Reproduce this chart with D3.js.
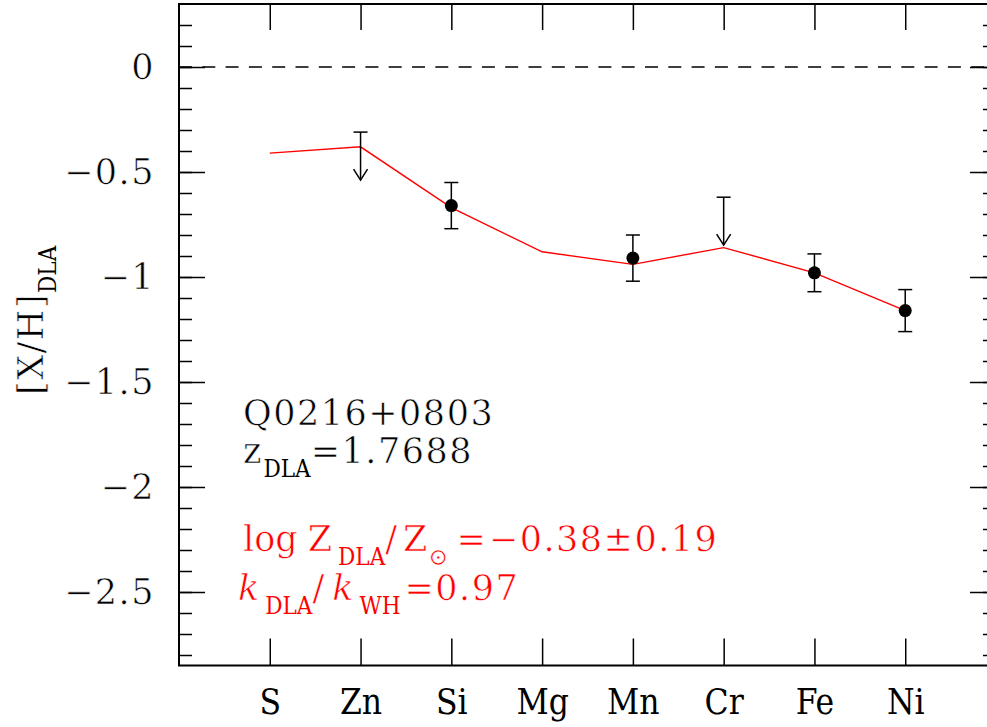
<!DOCTYPE html>
<meta charset="utf-8">
<html lang="en">
<head>
<title>[X/H] DLA pattern</title>
<script src="https://d3js.org/d3.v7.min.js"></script>
<style>
  body { margin: 0; background: #fff; }
  svg text { font-family: "DejaVu Serif", serif; stroke: #fff; stroke-width: 0.6px; }
  svg text .sub, svg text.sub { font-family: "DejaVu Serif Condensed", "DejaVu Serif", serif; letter-spacing: 0; stroke: none; }
  .big { letter-spacing: 1.5px; }
</style>
</head>
<body>
<div id="chart"></div>
<script>
// elements along the x axis
var elements = ["S", "Zn", "Si", "Mg", "Mn", "Cr", "Fe", "Ni"];
// model curve (red line)
var modelValues = [-0.41, -0.38, -0.67, -0.88, -0.94, -0.86, -0.98, -1.16];
// measured abundances with errors
var measured = ["Si", "Mn", "Fe", "Ni"];
var measuredValues = [-0.66, -0.91, -0.98, -1.16];
var measuredErrors = [0.11, 0.11, 0.09, 0.10];
// upper limits
var limits = ["Zn", "Cr"];
var limitValues = [-0.31, -0.62];
// y tick values
var majorTicks = [0, -0.5, -1, -1.5, -2, -2.5];
var minorTicks = d3.range(2, -29, -1).map(function(d) { return d / 10; });
var yTickLabels = ["0", "\u22120.5", "\u22121", "\u22121.5", "\u22122", "\u22122.5"];

var width = 987, height = 727;
var plotLeft = 179, plotRight = 996, plotTop = 4, plotBottom = 665.5;

var svg = d3.select("#chart").append("svg")
    .attr("width", width)
    .attr("height", height);

var x = d3.scalePoint()
    .domain(elements)
    .range([plotLeft, plotRight])
    .padding(1);

var y = d3.scaleLinear()
    .domain([0.3, -2.85])
    .range([plotTop, plotBottom]);

// left axis, major with labels
var yLeft = svg.append("g")
    .attr("transform", "translate(" + plotLeft + ",0)")
    .call(d3.axisLeft(y).tickValues(majorTicks).tickSize(-26).tickPadding(24)
        .tickFormat(function(d, i) { return yTickLabels[i]; }));
yLeft.select(".domain").remove();
yLeft.selectAll("text").attr("font-size", 35).attr("font-family", "DejaVu Serif").attr("fill", "#000").attr("class", "big");
yLeft.selectAll("line").attr("stroke-width", 1.5);

var yLeftMinor = svg.append("g")
    .attr("transform", "translate(" + plotLeft + ",0)")
    .call(d3.axisLeft(y).tickValues(minorTicks).tickSize(-13).tickFormat(""));
yLeftMinor.select(".domain").remove();
yLeftMinor.selectAll("line").attr("stroke-width", 1.5);

// right axis
var yRight = svg.append("g")
    .attr("transform", "translate(" + plotRight + ",0)")
    .call(d3.axisRight(y).tickValues(majorTicks).tickSize(-26).tickFormat(""));
yRight.select(".domain").remove();
yRight.selectAll("line").attr("stroke-width", 1.5);

var yRightMinor = svg.append("g")
    .attr("transform", "translate(" + plotRight + ",0)")
    .call(d3.axisRight(y).tickValues(minorTicks).tickSize(-13).tickFormat(""));
yRightMinor.select(".domain").remove();
yRightMinor.selectAll("line").attr("stroke-width", 1.5);

// bottom axis with element names
var xBottom = svg.append("g")
    .attr("transform", "translate(0," + plotBottom + ")")
    .call(d3.axisBottom(x).tickSize(-27).tickPadding(24));
xBottom.select(".domain").remove();
xBottom.selectAll("text").attr("font-size", 35).attr("class", "sub").attr("fill", "#000");
xBottom.selectAll("line").attr("stroke-width", 1.5);

// top axis
var xTop = svg.append("g")
    .attr("transform", "translate(0," + plotTop + ")")
    .call(d3.axisTop(x).tickSize(-26).tickFormat(""));
xTop.select(".domain").remove();
xTop.selectAll("line").attr("stroke-width", 1.5);

// frame
svg.append("rect")
    .attr("x", plotLeft).attr("y", plotTop)
    .attr("width", plotRight - plotLeft).attr("height", plotBottom - plotTop)
    .attr("fill", "none").attr("stroke", "#000").attr("stroke-width", 2);

// solar reference
svg.append("line")
    .attr("x1", plotLeft).attr("x2", plotRight)
    .attr("y1", y(0)).attr("y2", y(0))
    .attr("stroke", "#000").attr("stroke-width", 1.5)
    .attr("stroke-dasharray", "13,10.3");

// model line
var line = d3.line()
    .x(function(d, i) { return x(elements[i]); })
    .y(function(d) { return y(d); });
svg.append("path")
    .datum(modelValues)
    .attr("d", line)
    .attr("fill", "none").attr("stroke", "#ff0000").attr("stroke-width", 1.4);

// error bars
var capW = 7;
var errs = svg.append("g").attr("stroke", "#000").attr("stroke-width", 1.5);
measured.forEach(function(el, i) {
    var cx = x(el), hi = y(measuredValues[i] + measuredErrors[i]), lo = y(measuredValues[i] - measuredErrors[i]);
    errs.append("line").attr("x1", cx).attr("x2", cx).attr("y1", hi).attr("y2", lo);
    errs.append("line").attr("x1", cx - capW).attr("x2", cx + capW).attr("y1", hi).attr("y2", hi);
    errs.append("line").attr("x1", cx - capW).attr("x2", cx + capW).attr("y1", lo).attr("y2", lo);
});
svg.selectAll(".pt")
    .data(measuredValues)
    .enter().append("circle")
    .attr("class", "pt")
    .attr("cx", function(d, i) { return x(measured[i]); })
    .attr("cy", function(d) { return y(d); })
    .attr("r", 6.5)
    .attr("fill", "#000");

// upper limit arrows
var arrowLen = 48;
var lim = svg.append("g").attr("stroke", "#000").attr("stroke-width", 1.5).attr("fill", "none");
limits.forEach(function(el, i) {
    var cx = x(el), y0 = y(limitValues[i]), y1 = y0 + arrowLen;
    lim.append("line").attr("x1", cx - capW).attr("x2", cx + capW).attr("y1", y0).attr("y2", y0);
    lim.append("line").attr("x1", cx).attr("x2", cx).attr("y1", y0).attr("y2", y1);
    lim.append("path").attr("d", "M" + (cx - 7) + "," + (y1 - 11) + "L" + cx + "," + y1 + "L" + (cx + 7) + "," + (y1 - 11));
});

// y label
var ylab = svg.append("text")
    .attr("transform", "translate(43,395) rotate(-90)")
    .attr("font-size", 35)
    .attr("fill", "#000");
ylab.append("tspan").attr("class", "big").text("[X/H]");
ylab.append("tspan").attr("class", "sub").attr("font-size", 24).attr("dy", 13).text("DLA");

// annotations
svg.append("text")
    .attr("x", 243).attr("y", 425)
    .attr("font-size", 35).attr("fill", "#000").attr("class", "big")
    .text("Q0216+0803");

var zt = svg.append("text")
    .attr("x", 243).attr("y", 463)
    .attr("font-size", 35).attr("fill", "#000");
zt.append("tspan").text("z");
zt.append("tspan").attr("class", "sub").attr("font-size", 24).attr("dy", 14).attr("dx", 2).text("DLA");
zt.append("tspan").attr("dy", -14).attr("class", "big").text("=1.7688");

var logt = svg.append("text")
    .attr("x", 243).attr("y", 551)
    .attr("font-size", 35).attr("fill", "#ff0000");
logt.append("tspan").text("log");
logt.append("tspan").attr("dx", 10).text("Z");
logt.append("tspan").attr("class", "sub").attr("font-size", 24).attr("dy", 14).attr("dx", 6).text("DLA");
logt.append("tspan").attr("dy", -14).text("/");
logt.append("tspan").attr("dx", 6).text("Z");
logt.append("tspan").attr("font-size", 24).attr("dy", 14).attr("dx", 1).text("\u2299");
logt.append("tspan").attr("dy", -14).attr("dx", 8).text("=");
logt.append("tspan").attr("dx", 3).attr("class", "big").text("\u22120.38\u00b10.19");

var kt = svg.append("text")
    .attr("x", 238).attr("y", 600)
    .attr("font-size", 35).attr("fill", "#ff0000");
kt.append("tspan").attr("font-style", "italic").text("k");
kt.append("tspan").attr("class", "sub").attr("font-size", 24).attr("dy", 14).attr("dx", 6).text("DLA");
kt.append("tspan").attr("dy", -14).text("/");
kt.append("tspan").attr("font-style", "italic").attr("dx", 8).text("k");
kt.append("tspan").attr("class", "sub").attr("font-size", 24).attr("dy", 14).attr("dx", 6).text("WH");
kt.append("tspan").attr("dy", -14).attr("dx", 4).attr("class", "big").text("=0.97");
</script>
</body>
</html>
